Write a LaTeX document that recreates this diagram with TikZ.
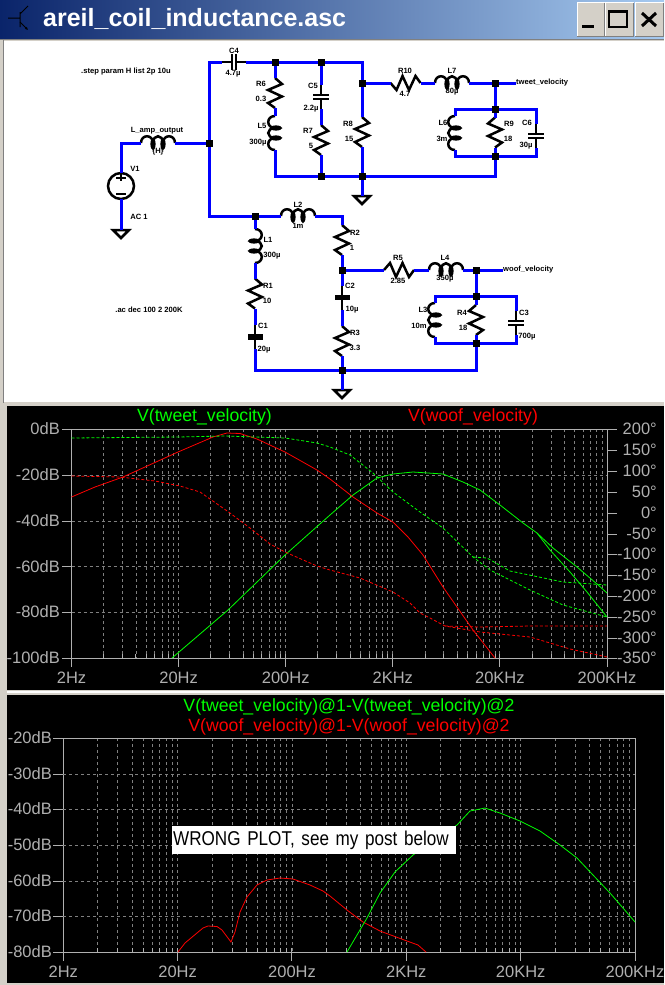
\documentclass[tikz,border=0pt]{standalone}
\usepackage{fontspec}
\setmainfont{Liberation Sans}
\newfontfamily\notefont[FakeStretch=0.855]{Liberation Sans}
\usetikzlibrary{arrows.meta}

\definecolor{wblue}{RGB}{0,0,255}
\definecolor{wingray}{RGB}{212,208,200}
\definecolor{tgreen}{RGB}{0,255,0}
\definecolor{axgray}{RGB}{176,176,176}
\definecolor{griddash}{RGB}{128,128,128}
\definecolor{barleft}{RGB}{10,36,106}
\definecolor{barright}{RGB}{166,202,240}

\tikzset{
  wire/.style={draw=wblue,line width=3pt},
  part/.style={draw=black,line width=2.5pt,line join=miter},
  junc/.style={rectangle,fill=black,inner sep=0pt,minimum size=7pt},
  lbl/.style={inner sep=0pt,font=\fontsize{7.6}{8}\selectfont\bfseries},
  axlab/.style={inner sep=0pt,text=axgray,font=\fontsize{16.5}{17}\selectfont},
  ttl/.style={inner sep=0pt,font=\fontsize{17.7}{18}\selectfont},
  gridln/.style={draw=griddash,line width=0.9pt,dash pattern=on 3pt off 3pt},
  axln/.style={draw=axgray,line width=1pt},
  gtrace/.style={draw=tgreen,line width=0.8pt},
  rtrace/.style={draw=red,line width=0.8pt},
  gdash/.style={gtrace,dash pattern=on 3pt off 2pt},
  rdash/.style={rtrace,dash pattern=on 3pt off 2pt},
  pics/resistor/.style={code={
    \coordinate (-a) at (0,-15);
    \coordinate (-b) at (0,15);
    \draw[part] (0,-15) -- (7,-9) -- (-7,-3) -- (7,3.5) -- (-7,10) -- (0,15);
  }},
  pics/coil/.style={code={
    \coordinate (-a) at (0,-17);
    \coordinate (-b) at (0,17);
    \draw[part] (0,-17) .. controls (-9,-17) and (-9,-5) .. (0,-5)
      .. controls (-9,-5) and (-9,5) .. (0,5)
      .. controls (-9,5) and (-9,17) .. (0,17);
    \fill (1,-5) ellipse [x radius=6,y radius=2.6];
    \fill (1,5) ellipse [x radius=6,y radius=2.6];
  }},
  pics/capac/.style={code={
    \coordinate (-a) at (0,-12);
    \coordinate (-b) at (0,12);
    \draw[part] (0,-12) -- (0,-2.2) (0,2.2) -- (0,12);
    \draw[part] (-8,-2.2) -- (8,-2.2) (-8,2.2) -- (8,2.2);
  }},
  pics/capnear/.style={code={
    \coordinate (-a) at (0,-12);
    \coordinate (-b) at (0,12);
    \draw[part] (0,-12) -- (0,12);
    \fill (-7.5,-2.8) rectangle (7.5,2.8);
  }},
  pics/gnd/.style={code={
    \coordinate (-a) at (0,0);
    \draw[part] (-8,0) -- (8,0) -- (0,8) -- cycle;
  }},
  pics/vsrc/.style={code={
    \coordinate (-a) at (0,-13);
    \coordinate (-b) at (0,13);
    \draw[part] (0,0) circle (13);
    \draw[part] (0,-13) -- (0,-5) (-5,-8) -- (5,-8) (-5,8) -- (5,8);
  }},
}

\begin{document}
\begin{tikzpicture}[x=1pt,y=-1pt]
  \useasboundingbox (0,0) rectangle (664,985);

  % window
  \fill[wingray] (0,0) rectangle (664,985);
  \shade[left color=barleft,right color=barright] (0,0) rectangle (664,38);
  \fill[gray] (0,38.5) rectangle (664,40);
  \fill[gray] (2.5,40) rectangle (4,403);
  \fill[white] (4,41) rectangle (664,402);
  \fill[black] (7,406) rectangle (664,690);
  \fill[black] (7,695) rectangle (664,983);
  \fill[white] (7,691) rectangle (664,692.5);

  \draw (43,19) node[anchor=west,inner sep=0pt,text=white,font=\fontsize{25}{25}\selectfont\bfseries] (title) {areil\_coil\_inductance.asc};

  \draw[line width=1pt] (8,18) -- (20,18) (20,12) -- (20,27) (20,14) -- (28,6);
  \draw[line width=1pt,-{Latex[length=3pt,width=3pt]}] (20,22) -- (28,30);

  \foreach \bx/\bw in {577/27,605/28,635/28} {
    \draw[fill=wingray,draw=white] (\bx,2.5) rectangle ++(\bw,33.5);
    \draw[gray,line width=1pt] (\bx+\bw,2.5) -- ++(0,33.5) -- ++(-\bw,0);
  }
  \draw[line width=2.5pt] (582,26.5) -- (594,26.5);
  \draw[line width=1.4pt] (609,11) rectangle (627,27);
  \draw[line width=2.6pt] (609,12) -- (627,12);
  \draw[line width=3pt] (642,13) -- (656,26) (656,13) -- (642,26);

  % parts
  \pic (v1) at (121,186) {vsrc};
  \pic[rotate=-90] (lamp) at (158,143) {coil};
  \pic[rotate=90] (c4) at (234,62) {capac};
  \pic (r6) at (275,93) {resistor};
  \pic (l5) at (275,133) {coil};
  \pic (c5) at (321,97) {capac};
  \pic (r7) at (321,140) {resistor};
  \pic (r8) at (362,132) {resistor};
  \pic[rotate=90,xscale=-1] (r10) at (405.5,83) {resistor};
  \pic[rotate=-90] (l7) at (452,83) {coil};
  \pic (l6) at (455,133) {coil};
  \pic[xscale=-1] (r9) at (495,132.5) {resistor};
  \pic (c6) at (536,136) {capac};
  \pic[rotate=-90] (l2) at (298,216) {coil};
  \pic[xscale=-1] (l1) at (255,246) {coil};
  \pic (r1) at (255,293.5) {resistor};
  \pic (c1) at (255,337) {capnear};
  \pic (r2) at (342,240) {resistor};
  \pic (c2) at (342,297.5) {capnear};
  \pic (r3) at (342,341) {resistor};
  \pic[rotate=90] (r5) at (399,270) {resistor};
  \pic[rotate=-90] (l4) at (446,270) {coil};
  \pic (l3) at (435,320) {coil};
  \pic[xscale=-1] (r4) at (476,320) {resistor};
  \pic (c3) at (516,323) {capac};
  \pic (gnd1) at (121,230) {gnd};
  \pic (gnd2) at (362,196) {gnd};
  \pic (gnd3) at (342,390) {gnd};

  \draw (516,83) node[lbl,anchor=west] (tweet) {tweet\_velocity};
  \draw (503,270) node[lbl,anchor=west] (woof) {woof\_velocity};

  % wires
  \draw[wire] (209,143) coordinate (j1) (275,62) coordinate (j2) (321,62) coordinate (j3)
    (362,83) coordinate (j4) (255,216) coordinate (j5) (321,176) coordinate (j6)
    (362,176) coordinate (j7) (495,156) coordinate (j9) (495,83) coordinate (j10)
    (495,109) coordinate (j11) (342,270) coordinate (j12) (342,370) coordinate (j13)
    (476,270) coordinate (j14) (476,296) coordinate (j15) (476,343) coordinate (j16);

  \draw[wire] (v1-a) |- (lamp-b);
  \draw[wire] (lamp-a) -- (j1);
  \draw[wire] (v1-b) -- (gnd1-a);
  \draw[wire] (j1) |- (c4-a);
  \draw[wire] (c4-b) -- (j3);
  \draw[wire] (j3) -| (j4);
  \draw[wire] (j1) |- (j5);
  \draw[wire] (j5) -- (l2-b);
  \draw[wire] (l2-a) -| (r2-a);
  \draw[wire] (j2) -- (r6-a);
  \draw[wire] (r6-b) -- (l5-a);
  \draw[wire] (l5-b) |- (j6);
  \draw[wire] (j3) -- (c5-a);
  \draw[wire] (c5-b) -- (r7-a);
  \draw[wire] (r7-b) -- (j6);
  \draw[wire] (j6) -- (j7);
  \draw[wire] (j4) -- (r8-a);
  \draw[wire] (r8-b) -- (j7);
  \draw[wire] (j7) -- (gnd2-a);
  \draw[wire] (j7) -| (j9);
  \draw[wire] (j4) -- (r10-a);
  \draw[wire] (r10-b) -- (l7-b);
  \draw[wire] (l7-a) -- (j10);
  \draw[wire] (j10) -- (tweet.west);
  \draw[wire] (j10) -- (j11);
  \draw[wire] (j11) -| (l6-a);
  \draw[wire] (l6-b) |- (j9);
  \draw[wire] (j11) -- (r9-a);
  \draw[wire] (r9-b) -- (j9);
  \draw[wire] (j11) -| (c6-a);
  \draw[wire] (c6-b) |- (j9);
  \draw[wire] (j5) -- (l1-a);
  \draw[wire] (l1-b) -- (r1-a);
  \draw[wire] (r1-b) -- (c1-a);
  \draw[wire] (c1-b) |- (j13);
  \draw[wire] (r2-b) -- (j12);
  \draw[wire] (j12) -- (c2-a);
  \draw[wire] (c2-b) -- (r3-a);
  \draw[wire] (r3-b) -- (j13);
  \draw[wire] (j13) -- (gnd3-a);
  \draw[wire] (j12) -- (r5-a);
  \draw[wire] (r5-b) -- (l4-b);
  \draw[wire] (l4-a) -- (j14);
  \draw[wire] (j14) -- (woof.west);
  \draw[wire] (j14) -- (j15);
  \draw[wire] (j15) -| (l3-a);
  \draw[wire] (l3-b) |- (j16);
  \draw[wire] (j15) -- (r4-a);
  \draw[wire] (r4-b) -- (j16);
  \draw[wire] (j15) -| (c3-a);
  \draw[wire] (c3-b) |- (j16);
  \draw[wire] (j13) -| (j16);

  \foreach \j in {j1,j2,j3,j4,j5,j6,j7,j9,j10,j11,j12,j13,j14,j15,j16}
    \draw (\j) node[junc] (dot\j) {};

  % part labels
  \foreach \x/\y/\t [count=\i] in {126/72/.step param H list 2p 10u,157/131/L\_amp\_output,158/152/\{H\},
    135/169/V1,139/217/AC 1,234/51/C4,233/74/4.7µ,261/84/R6,261/99/0.3,262/126/L5,258/143/300µ,
    313/86/C5,311/109/2.2µ,308/131/R7,311/146/5,298/205/L2,298/226/1m,405/71/R10,405/94/4.7,
    452/71/L7,452/92/80µ,348/124/R8,349/139/15,443/123/L6,442/139/3m,509/124/R9,508/139/18,
    527/123/C6,526/146/30µ,268/240/L1,272/256/300µ,268/286/R1,267/301/10,263/326/C1,264/350/20µ,
    355/233/R2,352/248/1,350/286/C2,352/310/10µ,355/333/R3,355/348/3.3,149/310/.ac dec 100 2 200K,
    398/258/R5,398/281/2.85,445/258/L4,445/279/350µ,423/310/L3,419/326/10m,462/313/R4,463/328/18,
    524/313/C3,527/337/700µ}
    \draw (\x,\y) node[lbl] (part\i) {\t};

  % plot frames
  \foreach \xa/\dec/\ya/\yb [count=\p] in {71.5/107.1/429/658,63.3/114.34/738/952} {
    \foreach \d in {0,...,4}
      \foreach \m in {2,...,10} {
        \pgfmathsetmacro\gx{\xa+\dec*(\d+log10(\m))}
        \draw[gridln] (\gx,\ya) -- (\gx,\yb);
        \draw[axln] (\gx,\yb) -- (\gx,\yb-4);
      }
    \draw[axln] (\xa,\ya) rectangle (\xa+5*\dec,\yb);
    \foreach \d in {0,...,5}
      \draw[axln] (\xa+\d*\dec,\yb) -- (\xa+\d*\dec,\yb+9);
  }
  \foreach \y in {475,521,566.5,612}
    \draw[gridln] (71.5,\y) -- (607,\y);
  \foreach \y in {774,809,845,881,916}
    \draw[gridln] (63.3,\y) -- (635,\y);

  % axis labels
  \foreach \y/\t [count=\i] in {429/0dB,475/-20dB,521/-40dB,566.5/-60dB,612/-80dB,658/-100dB} {
    \draw[axln] (62,\y) -- (71.5,\y);
    \draw (60,\y) node[axlab,anchor=east] (dbtop\i) {\t};
  }
  \foreach \y/\t [count=\i] in {429/200,450/150,471/100,492/50,513/0,534/-50,554/-100,575/-150,596/-200,617/-250,638/-300,658/-350} {
    \draw[axln] (607,\y) -- (617,\y);
    \draw (657,\y) node[axlab,anchor=east] (deg\i) {\t°};
  }
  \foreach \x/\t [count=\i] in {71.5/2Hz,178.6/20Hz,285.7/200Hz,392.8/2KHz,499.9/20KHz,607/200KHz}
    \draw (\x,678) node[axlab] (ftop\i) {\t};
  \foreach \y/\t [count=\i] in {738/-20dB,774/-30dB,809/-40dB,845/-50dB,881/-60dB,916/-70dB,952/-80dB} {
    \draw[axln] (53,\y) -- (63.3,\y);
    \draw (52,\y) node[axlab,anchor=east] (dbbot\i) {\t};
  }
  \foreach \x/\t [count=\i] in {63.3/2Hz,177.6/20Hz,292/200Hz,406.3/2KHz,520.7/20KHz,635/200KHz}
    \draw (\x,972) node[axlab] (fbot\i) {\t};

  \draw (204.5,417) node[ttl,text=tgreen] (ttlg) {V(tweet\_velocity)};
  \draw (473,417) node[ttl,text=red] (ttlr) {V(woof\_velocity)};
  \draw (349,707) node[ttl,text=tgreen] (ttlgb) {V(tweet\_velocity)@1-V(tweet\_velocity)@2};
  \draw (349,727) node[ttl,text=red] (ttlrb) {V(woof\_velocity)@1-V(woof\_velocity)@2};

  % upper traces
  \draw[gtrace] (172,658) -- (228,610) -- (285,555) -- (330,515) -- (353,495) -- (377,478) -- (393,474) -- (413,472) -- (443,474) -- (463,482) -- (480,490) -- (500,505) -- (523,523) -- (537,533) -- (553,548) -- (577,567) -- (597,584) -- (607,593);
  \draw[gtrace] (537,533) -- (550,550) -- (570,572) -- (587,592) -- (607,617);
  \draw[rtrace] (71.5,497) -- (95,487) -- (123,477) -- (178,452) -- (213,437) -- (227,433) -- (240,433.5) -- (257,439) -- (285,452) -- (317,470) -- (330,479) -- (353,497) -- (377,513) -- (393,522) -- (408,537) -- (423,555) -- (443,587) -- (473,630) -- (495,658);
  \draw[gdash] (71.5,438) -- (178,437) -- (225,436) -- (285,438) -- (317,443) -- (330,447) -- (350,455) -- (373,473) -- (393,492) -- (420,512) -- (443,528) -- (473,557) -- (490,570) -- (530,590) -- (563,605) -- (607,617);
  \draw[gdash] (473,557) -- (487,558) -- (510,571) -- (563,582) -- (607,585);
  \draw[rdash] (71.5,476) -- (120,477) -- (155,481) -- (180,486) -- (200,492) -- (210,499) -- (230,513) -- (250,528) -- (270,544) -- (285,552) -- (317,566) -- (330,570) -- (360,578) -- (393,592) -- (410,603) -- (420,613) -- (430,618) -- (445,626) -- (480,632) -- (530,637) -- (570,649) -- (607,657);
  \draw[rdash] (445,626) -- (480,627) -- (530,626) -- (607,626);

  % lower traces
  \draw[rtrace] (178,952) -- (185,943) -- (203,928) -- (208,926) -- (217,926.5) -- (222,930) -- (231,942) -- (235,932) -- (240,912) -- (247,897) -- (257,885) -- (267,880) -- (280,878) -- (293,879) -- (310,885) -- (323,891) -- (330,896) -- (347,910) -- (363,922) -- (380,931) -- (407,941) -- (418,945) -- (426,952);
  \draw[gtrace] (347,952) -- (367,918) -- (380,893) -- (395,872) -- (413,855) -- (457,825) -- (470,811) -- (485,808) -- (500,813) -- (520,821) -- (540,831) -- (560,845) -- (577,858) -- (593,875) -- (610,893) -- (623,908) -- (635,922);

  \draw (172,826) node[anchor=north west,fill=white,text=black,text width=282pt,inner xsep=1pt,inner ysep=0pt,minimum height=28pt,font=\fontsize{20}{20}\selectfont\notefont] (note) {\mbox{WRONG PLOT, see my post below}};
\end{tikzpicture}
\end{document}
